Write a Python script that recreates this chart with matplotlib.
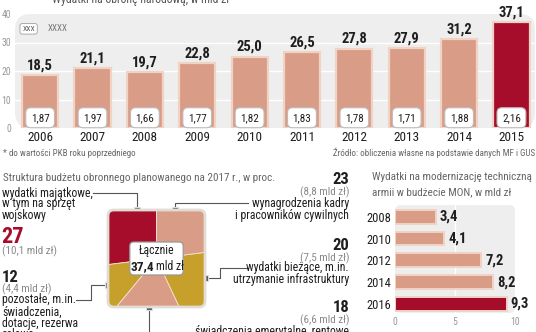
import matplotlib.pyplot as plt
from matplotlib.patches import FancyBboxPatch
import numpy as np

plt.rcParams['font.family'] = ['Roboto Condensed', 'DejaVu Sans']

# dane
years = ['2006', '2007', '2008', '2009', '2010', '2011', '2012', '2013', '2014', '2015']
spending = [18.5, 21.1, 19.7, 22.8, 25.0, 26.5, 27.8, 27.9, 31.2, 37.1]
pkb_share = ['1,87', '1,97', '1,66', '1,77', '1,82', '1,83', '1,78', '1,71', '1,88', '2,16']

struct_pct = [27, 12, 18, 20, 23]   # od 90 stopni przeciwnie do zegara
struct_mld = ['10,1', '4,4', '6,6', '7,5', '8,8']
total_mld = 37.4

mod_years = ['2008', '2010', '2012', '2014', '2016']
mod_values = [3.4, 4.1, 7.2, 8.2, 9.3]

PINK = '#d99c86'
PINK_EDGE = '#f1d3c6'
RED = '#a50d2b'
MUSTARD = '#c6a02a'
PANEL = '#eeeeee'
DARK = '#1e1e1e'
GRAY = '#8a8a8a'

W, H = 536, 332
fig = plt.figure(figsize=(W / 100, H / 100), dpi=100)


def box(x0, y0, x1, y1):
    # prostokat w pikselach (od gory) -> wspolrzedne figury
    return [x0 / W, 1 - y1 / H, (x1 - x0) / W, (y1 - y0) / H]


def fmt(v):
    return f'{v:.1f}'.replace('.', ',')


# --- wykres gorny ---
ax = fig.add_axes(box(15, 14, 535, 128))
ax.set_facecolor('none')
ax.add_patch(FancyBboxPatch((0, 0), 1, 1, boxstyle='round,pad=0,rounding_size=0.03',
                            transform=ax.transAxes, facecolor=PANEL, edgecolor='none',
                            zorder=0, mutation_aspect=4.5))
x = np.arange(len(years))
colors = [PINK] * (len(years) - 1) + [RED]
ax.bar(x, spending, width=0.69, color=colors, edgecolor=PINK_EDGE, linewidth=1.6, zorder=3)
for v in [10, 20, 30]:
    ax.axhline(v, color='white', lw=1, zorder=1)
ax.set_xlim(-0.48, 9.45)
ax.set_ylim(0, 40)
ax.set_yticks([0, 10, 20, 30, 40])
ax.set_yticklabels(['0', '10', '20', '30', '40'], color='#999999', fontsize=7)
ax.tick_params(axis='y', length=0, pad=3)
ax.set_xticks(x)
ax.set_xticklabels(years, fontsize=9.5, color=DARK)
ax.tick_params(axis='x', length=0, pad=2.5)
for s in ax.spines.values():
    s.set_visible(False)
for i, v in enumerate(spending):
    ax.annotate(fmt(v), (i, v), xytext=(0, 2), textcoords='offset points',
                ha='center', va='bottom', fontsize=10.5, fontweight='bold', color=DARK)
    ax.text(i, 3.6, pkb_share[i], ha='center', va='center', fontsize=8, color=DARK, zorder=5,
            bbox=dict(boxstyle='round,pad=0.45', facecolor='white', edgecolor='#bbbbbb', lw=0.8))
ax.text(0.014, 0.87, 'XXX', transform=ax.transAxes, fontsize=5.5, color='#555555', va='center',
        bbox=dict(boxstyle='round,pad=0.3', facecolor='white', edgecolor='#aaaaaa', lw=0.7))
ax.text(0.062, 0.87, 'XXXX', transform=ax.transAxes, fontsize=6.5, color='#777777', va='center')

# --- nakladka w pikselach na teksty i linie ---
ov = fig.add_axes([0, 0, 1, 1])
ov.set_xlim(0, W)
ov.set_ylim(H, 0)
ov.axis('off')
ov.patch.set_alpha(0)

ov.text(52, 2.5, 'Wydatki na obronę narodową, w mld zł', fontsize=8.5, color='#555555', va='baseline')
ov.text(3, 153, '* do wartości PKB roku poprzedniego', fontsize=6.5, color='#666666', va='center')
ov.text(535, 153, 'Źródło: obliczenia własne na podstawie danych MF i GUS', fontsize=6.5,
        color='#666666', va='center', ha='right')

# --- struktura budzetu ---
ov.text(3, 178, 'Struktura budżetu obronnego planowanego na 2017 r., w proc.', fontsize=8,
        color='#666666', va='center')
ov.text(372, 177, 'Wydatki na modernizację techniczną', fontsize=8, color='#666666', va='center')
ov.text(372, 192, 'armii w budżecie MON, w mld zł', fontsize=8, color='#666666', va='center')

pa = fig.add_axes(box(108, 210, 205, 307))
pa.axis('off')
wedges, _ = pa.pie(struct_pct, colors=[RED, MUSTARD, PINK, MUSTARD, PINK], startangle=90,
                   counterclock=True, radius=2,
                   wedgeprops=dict(edgecolor='#f3e2d6', linewidth=0.6))
pa.set_xlim(-1, 1)
pa.set_ylim(-1, 1)
pa.set_aspect('auto')
clip = FancyBboxPatch((-1, -1), 2, 2, boxstyle='round,pad=0,rounding_size=0.12',
                      facecolor='none', edgecolor='none')
pa.add_patch(clip)
for w in wedges:
    w.set_clip_on(True)
    w.set_clip_path(clip)
pa.add_patch(FancyBboxPatch((-1, -1), 2, 2, boxstyle='round,pad=0,rounding_size=0.12',
                            facecolor='none', edgecolor='#e2dcd6', lw=2, zorder=5, clip_on=False))
pa.add_patch(FancyBboxPatch((-0.55, -0.34), 1.1, 0.68, boxstyle='round,pad=0,rounding_size=0.08',
                            facecolor='white', edgecolor='#999999', lw=0.9, zorder=6))
pa.text(0, 0.17, 'Łącznie', ha='center', va='center', fontsize=8.5, color=DARK, zorder=7)
pa.text(-0.04, -0.16, fmt(total_mld), ha='right', va='center', fontsize=9.5,
        fontweight='bold', color=DARK, zorder=7)
pa.text(0.0, -0.16, 'mld zł', ha='left', va='center', fontsize=8.5, color=DARK, zorder=7)

# linie odnosnikow
lk = dict(color='#555555', lw=0.8)
ov.plot([137, 137, 93], [210, 193, 193], **lk)
ov.plot([175, 175, 248], [210, 203, 203], **lk)
ov.plot([205, 220, 220, 248], [278, 278, 268, 268], **lk)
ov.plot([108, 91, 91, 76], [285, 285, 300, 300], **lk)
ov.plot([149, 149], [307, 340], **lk)
ov.plot([137, 175, 205, 108, 149], [210, 210, 278, 285, 307], ls='none', marker='s',
        ms=4.5, mfc='#555555', mec='#dddddd', mew=0.8, zorder=10, clip_on=False)

txt = dict(fontsize=8.5, color=DARK, va='center')
ov.text(2, 193, 'wydatki majątkowe,', **txt)
ov.text(2, 204, 'w tym na sprzęt', **txt)
ov.text(2, 216, 'wojskowy', **txt)
ov.text(1, 237, str(struct_pct[0]), fontsize=16, fontweight='bold', color=RED, va='center')
ov.text(2, 251, f'({struct_mld[0]} mld zł)', fontsize=8, color=GRAY, va='center')

ov.text(2, 277, str(struct_pct[1]), fontsize=12, fontweight='bold', color=DARK, va='center')
ov.text(2, 289, f'({struct_mld[1]} mld zł)', fontsize=8, color=GRAY, va='center')
ov.text(2, 300, 'pozostałe, m.in.', **txt)
ov.text(2, 312, 'świadczenia,', **txt)
ov.text(2, 323, 'dotacje, rezerwa', **txt)
ov.text(2, 335, 'celowa', **txt)

rt = dict(fontsize=8.5, color=DARK, va='center', ha='right')
big = dict(fontsize=12, fontweight='bold', color=DARK, va='center', ha='right')
sub = dict(fontsize=8, color=GRAY, va='center', ha='right')
ov.text(349, 180, str(struct_pct[4]), **big)
ov.text(349, 192, f'({struct_mld[4]} mld zł)', **sub)
ov.text(349, 203, 'wynagrodzenia kadry', **rt)
ov.text(349, 215, 'i pracowników cywilnych', **rt)
ov.text(349, 246, str(struct_pct[3]), **big)
ov.text(349, 258, f'({struct_mld[3]} mld zł)', **sub)
ov.text(349, 268, 'wydatki bieżące, m.in.', **rt)
ov.text(349, 279, 'utrzymanie infrastruktury', **rt)
ov.text(349, 308, str(struct_pct[2]), **big)
ov.text(349, 320, f'({struct_mld[2]} mld zł)', **sub)
ov.text(349, 332, 'świadczenia emerytalne, rentowe', **rt)

# --- modernizacja ---
bx = fig.add_axes(box(395, 205, 515, 313))
bx.set_facecolor('none')
bx.add_patch(FancyBboxPatch((0, 0), 1, 1, boxstyle='round,pad=0,rounding_size=0.05',
                            transform=bx.transAxes, facecolor=PANEL, edgecolor='none',
                            zorder=0, mutation_aspect=1.1))
yy = np.arange(len(mod_years))
bx.barh(yy, mod_values, height=0.63, color=[PINK] * 4 + [RED], edgecolor=PINK_EDGE,
        linewidth=1.4, zorder=3)
bx.axvline(5, color='white', lw=1, zorder=1)
bx.set_xlim(0, 10)
bx.set_ylim(4.42, -0.54)
bx.set_yticks(yy)
bx.set_yticklabels(mod_years, fontsize=9, color=DARK)
bx.set_xticks([0, 5, 10])
bx.set_xticklabels(['0', '5', '10'], fontsize=7, color='#999999')
bx.tick_params(length=0, pad=3)
for s in bx.spines.values():
    s.set_visible(False)
for i, v in enumerate(mod_values):
    bx.annotate(fmt(v), (v, i), xytext=(3, 0), textcoords='offset points',
                ha='left', va='center', fontsize=10.5, fontweight='bold', color=DARK,
                annotation_clip=False)

fig.savefig('out.png', dpi=100)
